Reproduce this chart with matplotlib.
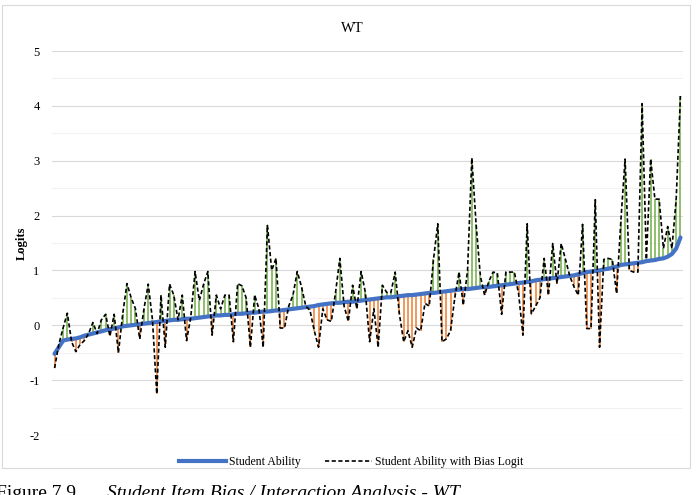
import matplotlib
matplotlib.use("Agg")
import numpy as np
from matplotlib import pyplot as plt
from matplotlib.patches import Rectangle
from matplotlib.lines import Line2D

# student ability (sorted) and ability with bias logit, one value per student-item
ability = [-0.52, -0.40, -0.28, -0.26, -0.25, -0.24, -0.22, -0.19, -0.17, -0.15,
           -0.13, -0.11, -0.09, -0.07, -0.06, -0.04, -0.02, -0.01, 0.00, 0.01,
           0.02, 0.03, 0.04, 0.05, 0.06, 0.07, 0.08, 0.09, 0.10, 0.10,
           0.11, 0.12, 0.12, 0.13, 0.14, 0.15, 0.16, 0.17, 0.18, 0.18,
           0.19, 0.19, 0.20, 0.21, 0.21, 0.22, 0.23, 0.23, 0.24, 0.25,
           0.25, 0.26, 0.27, 0.27, 0.28, 0.29, 0.30, 0.31, 0.32, 0.33,
           0.34, 0.35, 0.37, 0.38, 0.39, 0.40, 0.41, 0.41, 0.42, 0.43,
           0.43, 0.44, 0.45, 0.46, 0.47, 0.48, 0.49, 0.50, 0.51, 0.51,
           0.52, 0.53, 0.54, 0.55, 0.55, 0.56, 0.57, 0.58, 0.59, 0.59,
           0.60, 0.61, 0.62, 0.63, 0.64, 0.65, 0.66, 0.66, 0.67, 0.68,
           0.69, 0.70, 0.70, 0.71, 0.72, 0.73, 0.74, 0.75, 0.76, 0.77,
           0.78, 0.79, 0.80, 0.82, 0.83, 0.84, 0.85, 0.86, 0.87, 0.88,
           0.89, 0.90, 0.91, 0.93, 0.95, 0.97, 0.98, 0.99, 1.00, 1.02,
           1.03, 1.05, 1.07, 1.10, 1.11, 1.12, 1.13, 1.14, 1.15, 1.17,
           1.18, 1.19, 1.21, 1.22, 1.25, 1.30, 1.40, 1.60]

with_bias = [-0.78, -0.35, -0.05, 0.22, -0.30, -0.48, -0.35, -0.28, -0.15, 0.05,
             -0.15, 0.10, 0.20, -0.20, 0.20, -0.50, 0.20, 0.76, 0.50, 0.30,
             -0.25, 0.30, 0.75, 0.10, -1.25, 0.55, -0.40, 0.75, 0.55, 0.10,
             0.55, -0.28, 0.15, 0.98, 0.45, 0.75, 0.98, -0.18, 0.55, 0.30,
             0.55, 0.55, -0.30, 0.76, 0.72, 0.50, -0.40, 0.55, 0.30, -0.40,
             1.82, 1.00, 1.22, -0.05, -0.05, 0.35, 0.55, 0.98, 0.70, 0.35,
             0.27, -0.10, -0.40, 0.30, 0.10, 0.07, 0.60, 1.22, 0.35, 0.07,
             0.73, 0.30, 0.98, 0.60, -0.30, 0.30, -0.40, 0.73, 0.60, 0.60,
             0.97, 0.20, -0.30, -0.10, -0.40, -0.05, -0.10, 0.40, 0.35, 1.20,
             1.85, -0.30, -0.25, -0.10, 0.50, 0.97, 0.37, 1.00, 3.05, 1.85,
             0.90, 0.55, 0.80, 0.97, 0.95, 0.20, 0.97, 0.97, 0.97, 0.57,
             -0.18, 1.85, 0.21, 0.35, 0.50, 1.22, 0.55, 1.49, 0.76, 1.49,
             1.20, 0.90, 0.70, 0.55, 1.84, -0.06, -0.06, 2.29, -0.40, 1.20,
             1.22, 1.20, 0.58, 1.90, 3.03, 1.00, 0.97, 0.97, 4.04, 1.20,
             3.03, 2.30, 2.30, 1.40, 1.80, 1.40, 2.30, 4.18]

yticks = [-2, -1, 0, 1, 2, 3, 4, 5]

ability = np.array(ability)
with_bias = np.array(with_bias)
x = np.arange(len(ability))

serif = "Liberation Serif"
fig = plt.figure(figsize=(6.99, 4.95), dpi=100)
ax = fig.add_axes([52 / 699, 1 - 435 / 495, 631 / 699, 384 / 495])

# chart frame
fig.patches.append(Rectangle((2 / 699, 1 - 468 / 495), 688 / 699, 463 / 495,
                             transform=fig.transFigure, fill=False,
                             edgecolor="#D9D9D9", linewidth=0.8))

up = with_bias >= ability
ax.vlines(x[up], ability[up], with_bias[up], color="#70AD47", linewidth=1.1, zorder=2)
ax.vlines(x[~up], with_bias[~up], ability[~up], color="#ED7D31", linewidth=1.1, zorder=2)
ax.plot(x, ability, color="#4472C4", linewidth=3, solid_capstyle="round", zorder=3)
ax.plot(x, with_bias, color="black", linewidth=1.2, linestyle=(0, (2.5, 1.5)), zorder=4)

ax.set_xlim(-0.6, len(x) - 0.4)
ax.set_ylim(-2, 5)
ax.set_yticks(yticks)
ax.set_yticklabels([str(t) for t in yticks], fontfamily=serif, fontsize=9)
ax.set_yticks(np.arange(-1.5, 5, 1.0), minor=True)
ax.tick_params(axis="y", which="both", length=0, pad=9)
ax.tick_params(axis="x", which="both", length=0, labelbottom=False)
ax.set_xticks([])
ax.grid(axis="y", which="major", color="#D9D9D9", linewidth=0.8)
ax.grid(axis="y", which="minor", color="#F2F2F2", linewidth=0.8)
ax.set_axisbelow(True)
for s in ax.spines.values():
    s.set_visible(False)

fig.text(22 / 699, 1 - 243 / 495, "Logits", rotation=90, ha="center", va="center",
         fontfamily=serif, fontsize=9, fontweight="bold")
fig.text(352 / 699, 1 - 28 / 495, "WT", ha="center", va="center",
         fontfamily=serif, fontsize=10.5)

handles = [Line2D([], [], color="#4472C4", linewidth=3),
           Line2D([], [], color="black", linewidth=1.2, linestyle=(0, (2.5, 1.5)))]
fig.legend(handles, ["Student Ability", "Student Ability with Bias Logit"],
           loc="center", bbox_to_anchor=(351 / 699, 1 - 462 / 495), ncol=2,
           frameon=False, prop={"family": serif, "size": 8.5},
           handlelength=4, columnspacing=2.1, handletextpad=0.2)

# caption, cut by the bottom edge as in the source page
fig.text(-4 / 699, -3 / 495, "Figure 7.9", ha="left", va="baseline",
         fontfamily=serif, fontsize=14)
fig.text(107 / 699, -3 / 495, "Student Item Bias / Interaction Analysis - WT",
         ha="left", va="baseline", fontfamily=serif, fontsize=14, fontstyle="italic")

fig.savefig("out.png", dpi=100)
